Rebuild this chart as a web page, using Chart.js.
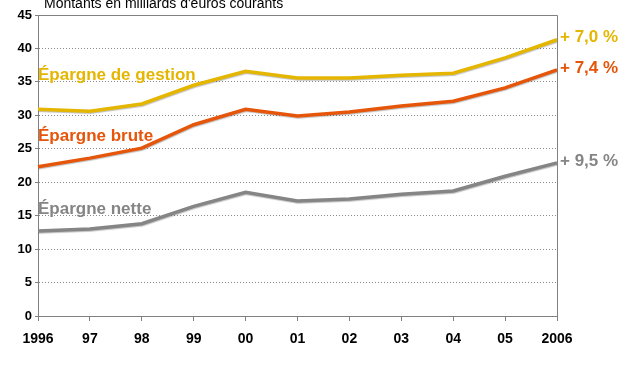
<!DOCTYPE html>
<html>
<head>
<meta charset="utf-8">
<script src="https://cdn.jsdelivr.net/npm/chart.js@4/dist/chart.umd.min.js"></script>
<style>
  body { margin: 0; background: #fff; }
  #chart { display: block; }
</style>
</head>
<body>
<canvas id="chart" width="627" height="377"></canvas>
<script>
// Years on the x axis
const years = ['1996', '97', '98', '99', '00', '01', '02', '03', '04', '05', '2006'];

// Amounts in billions of current euros
const gestion = [30.9, 30.6, 31.7, 34.5, 36.6, 35.6, 35.6, 36.0, 36.3, 38.6, 41.3];
const brute = [22.3, 23.6, 25.1, 28.6, 30.9, 29.9, 30.5, 31.4, 32.1, 34.1, 36.8];
const nette = [12.7, 13.0, 13.8, 16.4, 18.5, 17.2, 17.5, 18.2, 18.7, 20.9, 22.9];

const seriesNames = ['Épargne de gestion', 'Épargne brute', 'Épargne nette'];
const growthLabels = ['+ 7,0 %', '+ 7,4 %', '+ 9,5 %'];
const nameLevels = [36.0, 26.8, 16.0]; // where the series names sit on the y scale
const colors = ['#e5b600', '#e5550a', '#858585'];

const yTicks = [0, 5, 10, 15, 20, 25, 30, 35, 40, 45];
const title = "Montants en milliards d'euros courants";

// Box around the plot, shadow under lines, and the text annotations
const decorations = {
  id: 'decorations',
  beforeDatasetsDraw(chart) {
    const ctx = chart.ctx;
    ctx.save();
    ctx.shadowColor = 'rgba(0,0,0,0.25)';
    ctx.shadowOffsetX = 0.5;
    ctx.shadowOffsetY = 1;
    ctx.shadowBlur = 1;
  },
  afterDatasetsDraw(chart) {
    chart.ctx.restore();
  },
  afterDraw(chart) {
    const ctx = chart.ctx;
    const area = chart.chartArea;
    const y = chart.scales.y;
    ctx.save();
    ctx.strokeStyle = '#808080';
    ctx.lineWidth = 1;
    ctx.beginPath();
    ctx.moveTo(area.left, area.top + 0.5);
    ctx.lineTo(area.right + 0.5, area.top + 0.5);
    ctx.lineTo(area.right + 0.5, area.bottom);
    ctx.stroke();

    ctx.fillStyle = '#000';
    ctx.font = '14px "Liberation Sans", Arial, sans-serif';
    ctx.textBaseline = 'top';
    ctx.textAlign = 'left';
    ctx.fillText(title, area.left + 6, -3);

    ctx.font = 'bold 17px "Liberation Sans", Arial, sans-serif';
    ctx.textBaseline = 'middle';
    chart.data.datasets.forEach((ds, i) => {
      ctx.fillStyle = colors[i];
      ctx.fillText(seriesNames[i], area.left, y.getPixelForValue(nameLevels[i]));
      const last = chart.getDatasetMeta(i).data[ds.data.length - 1];
      ctx.fillText(growthLabels[i], last.x + 3, last.y - 2);
    });
    ctx.restore();
  }
};

const datasets = [gestion, brute, nette].map((values, i) => ({
  label: seriesNames[i],
  data: values,
  borderColor: colors[i],
  borderWidth: 3.5,
  pointRadius: 0,
  tension: 0,
  fill: false
}));

new Chart(document.getElementById('chart'), {
  type: 'line',
  data: { labels: years, datasets: datasets },
  options: {
    responsive: false,
    animation: false,
    layout: { padding: { top: 15, right: 70, left: 0, bottom: 0 } },
    plugins: {
      legend: { display: false },
      tooltip: { enabled: false }
    },
    scales: {
      x: {
        offset: false,
        grid: {
          drawOnChartArea: false,
          drawTicks: true,
          tickLength: 5,
          tickColor: '#808080'
        },
        border: { color: '#808080', width: 1 },
        ticks: {
          color: '#000',
          padding: 10,
          maxRotation: 0,
          autoSkip: false,
          font: { family: '"Liberation Sans", Arial, sans-serif', size: 14, weight: 'bold' }
        },
        afterFit(scale) { scale.height = 61; }
      },
      y: {
        min: 0,
        max: 45,
        afterBuildTicks(scale) { scale.ticks = yTicks.map(v => ({ value: v })); },
        grid: {
          color: '#8a8a8a',
          lineWidth: 1,
          tickLength: 3,
          tickColor: '#808080',
          tickBorderDash: []
        },
        border: { color: '#808080', width: 1, dash: [1, 2] },
        ticks: {
          color: '#000',
          padding: 3,
          font: { family: '"Liberation Sans", Arial, sans-serif', size: 13, weight: 'bold' }
        },
        afterFit(scale) { scale.width = 38; }
      }
    }
  },
  plugins: [decorations]
});
</script>
</body>
</html>
